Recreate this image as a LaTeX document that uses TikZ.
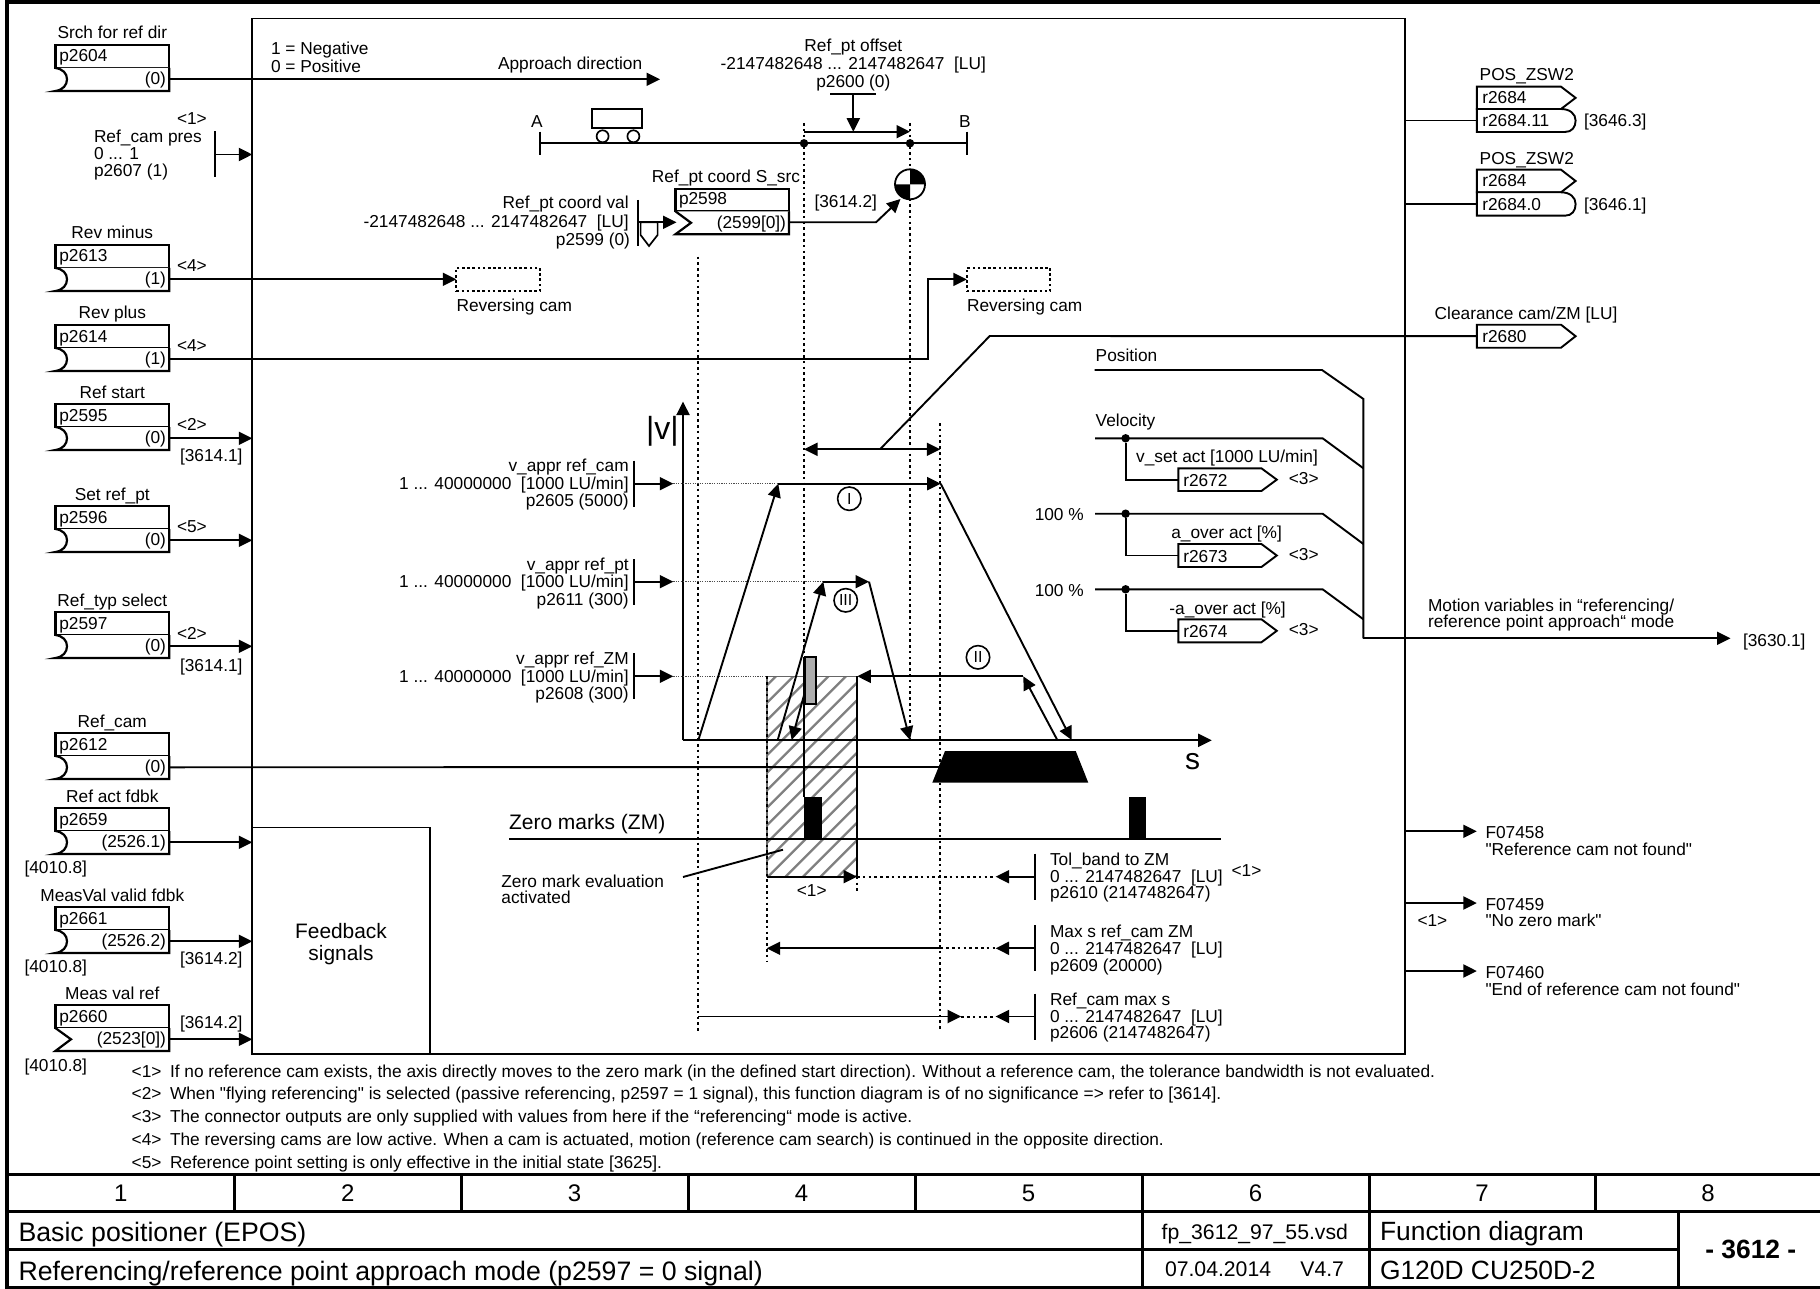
\documentclass[tikz,border=0pt]{standalone}
\usepackage{fontspec}
\setmainfont{Liberation Sans}[Ligatures=TeXOff]
\usetikzlibrary{arrows.meta}
\newcounter{tn}
\newcommand\fs[1]{\fontsize{#1}{#1}\selectfont}
\newcommand\TL[3]{\stepcounter{tn}\node[txt,anchor=base west] (t\arabic{tn}) at (#1,{#2+1}) {#3};}
\newcommand\TC[3]{\stepcounter{tn}\node[txt,anchor=base] (t\arabic{tn}) at (#1,{#2+1}) {#3};}
\newcommand\TR[3]{\stepcounter{tn}\node[txt,anchor=base east] (t\arabic{tn}) at (#1,{#2+1}) {#3};}
% input block: name, top, title, param, value, kind (0 curve, 1 chevron)
\newcommand\inblock[6]{%
  \draw[blk] (55.4,#2) rectangle (169.2,{#2+23});
  \ifnum#6=0
  \draw[blk] (55.4,{#2+23}) .. controls (63,{#2+24}) and (67,{#2+28.5}) .. (67,{#2+34.3}) .. controls (67,{#2+40}) and (63,{#2+45}) .. (55.4,{#2+46}) -- (169.2,{#2+46}) -- (169.2,{#2+23});
  \else
  \draw[blk] (55.4,{#2+23}) -- (71,{#2+34.3}) -- (55.4,{#2+46}) -- (169.2,{#2+46}) -- (169.2,{#2+23});
  \fi
  \TC{112.3}{#2-7}{#3}
  \TL{59.3}{#2+16}{#4}
  \TR{166}{#2+38.5}{#5}
  \coordinate (#1) at (169.2,{#2+34.3});
}
% output pentagon: name, top, bottom, text
\newcommand\outblock[4]{%
  \draw[blkthin] (1476.8,#2) -- (1561,#2) -- (1575.6,{(#2+#3)/2}) -- (1561,#3) -- (1476.8,#3) -- cycle;
  \TL{1482.3}{#3-6.5}{#4}
  \coordinate (#1) at (1476.8,{(#2+#3)/2});
}
% bit output: name, top, bottom, text
\newcommand\bitblock[4]{%
  \draw[blkthin] (1476.8,#2) -- (1561,#2) .. controls (1570,#2) and (1575.6,{#2+5}) .. (1575.6,{(#2+#3)/2}) .. controls (1575.6,{#3-5}) and (1572,#3) .. (1565,#3) -- (1476.8,#3) -- cycle;
  \TL{1482.3}{#3-6.5}{#4}
  \coordinate (#1) at (1476.8,{(#2+#3)/2});
}
% small output pentagon: name, top, bottom, text
\newcommand\smallout[4]{%
  \draw[blkthin] (1178.3,#2) -- (1261.4,#2) -- (1276.8,{(#2+#3)/2}) -- (1261.4,#3) -- (1178.3,#3) -- cycle;
  \TL{1183.3}{#3-5.5}{#4}
  \TL{1288.8}{#3-8}{<3>}
  \coordinate (#1) at (1178.3,{(#2+#3)/2});
}
\newcommand\pbar[3]{%
  \coordinate (#1) at (#2,#3);
  \draw[ln] (#2,{#3-23}) -- (#2,{#3+23});
}
\newcommand\circnum[4]{%
  \node[circle,draw,line width=1.6pt,fill=white,minimum size=23.4pt,inner sep=0pt,font=\fs{16}] (#1) at (#2,#3) {#4};
}
\tikzset{
  txt/.style={inner sep=0pt,outer sep=0pt,font=\fs{17.3}},
  ln/.style={line width=1.9pt,line join=miter},
  blk/.style={line width=2.2pt,fill=white},
  blkthin/.style={line width=1.9pt,fill=white,line join=miter},
  arr/.style={-{Triangle[length=13.5pt,width=13pt]}},
  dots/.style={line width=2pt,dash pattern=on 2.6pt off 3.2pt},
  fine/.style={line width=1.1pt,dash pattern=on 1.2pt off 1.2pt,black!70},
  dot/.style={circle,fill=black,inner sep=0pt,minimum size=8.5pt},
  mainbox/.style={draw,line width=1.9pt,inner sep=0pt,outer sep=0pt,anchor=north west},
  dashbox/.style={draw,line width=1.9pt,dash pattern=on 2.6pt off 2.6pt,inner sep=0pt,outer sep=0pt,minimum width=83.5pt,minimum height=23.3pt},
}
\begin{document}
\begin{tikzpicture}[x=1pt,y=-1pt]
\useasboundingbox (0,0) rectangle (1820,1289);
\fill[white] (0,0) rectangle (1820,1289);

%% frame and main boxes
\draw[line width=3.4pt] (1820,2) -- (7,2) -- (7,1287.5) -- (1820,1287.5);
\node[mainbox,minimum width=1153pt,minimum height=1035.5pt] (main) at (252.3,18.5) {};
\node[mainbox,minimum width=177.7pt,minimum height=226.5pt] (fb) at (252.3,827.5) {};
\TC{341}{937.5}{\fs{20.9}Feedback}
\TC{341}{959}{\fs{20.9}signals}

%% hatching
\coordinate (hnw) at (766.7,676.3);
\coordinate (hse) at (857,876.7);
\begin{scope}
\clip (hnw) rectangle (hse);
\foreach \i in {-13,...,6} {
  \draw[black!50,line width=2.2pt] ({768+17.5*\i-10},886.7) -- ({768+17.5*\i+210},666.7);
}
\end{scope}
\draw[black!60,line width=1.6pt] (hnw) -- (hnw -| hse);
\draw[black!60,line width=1.6pt] (hnw) -- (hnw |- hse);
\draw[line width=1.9pt] (hnw -| hse) -- (hse);

%% dotted verticals
\coordinate (d1t) at (698.3,256.7); \coordinate (d1b) at (698.3,1031.7);
\coordinate (d2t) at (804,123);     \coordinate (d2b) at (804,657);
\coordinate (d3t) at (910,123);     \coordinate (d3b) at (910,740);
\coordinate (d4t) at (940.3,423);   \coordinate (d4b) at (940.3,1031.7);
\coordinate (d5t) at (766.7,676.3); \coordinate (d5b) at (766.7,961.7);
\coordinate (d6t) at (857,876.7);   \coordinate (d6b) at (857,892.7);
\foreach \k in {1,...,6} \draw[dots] (d\k t) -- (d\k b);
\draw[line width=1.2pt] (804,657) -- (804,797);

%% input blocks
\inblock{p2604}{45}{Srch for ref dir}{p2604}{(0)}{0}
\inblock{p2613}{245}{Rev minus}{p2613}{(1)}{0}
\inblock{p2614}{325}{Rev plus}{p2614}{(1)}{0}
\inblock{p2595}{404}{Ref start}{p2595}{(0)}{0}
\inblock{p2596}{506}{Set ref\_pt}{p2596}{(0)}{0}
\inblock{p2597}{612}{Ref\_typ select}{p2597}{(0)}{0}
\inblock{p2612}{733}{Ref\_cam}{p2612}{(0)}{0}
\inblock{p2659}{808}{Ref act fdbk}{p2659}{(2526.1)}{0}
\inblock{p2661}{907}{MeasVal valid fdbk}{p2661}{(2526.2)}{0}
\inblock{p2660}{1005}{Meas val ref}{p2660}{(2523[0])}{1}

\coordinate (appr) at (660,79.3);
\draw[ln,arr] (p2604) -- (appr);
\node[dashbox,anchor=north west] (cam1) at (456.3,267.8) {};
\node[dashbox,anchor=north west] (cam2) at (966.8,267.8) {};
\draw[ln,arr] (p2613) -- (p2613 -| cam1.west);
\coordinate (rp) at (928.4,359.3);
\draw[ln,arr] (p2614) -- (rp) -- (rp |- cam2.west) -- (cam2.west);
\draw[ln,arr] (p2595) -- (p2595 -| main.west);
\draw[ln,arr] (p2596) -- (p2596 -| main.west);
\draw[ln,arr] (p2597) -- (p2597 -| main.west);
\draw[ln,arr] (p2659) -- (p2659 -| main.west);
\draw[ln,arr] (p2661) -- (p2661 -| main.west);
\draw[ln,arr] (p2660) -- (p2660 -| main.west);

\TL{177}{270.3}{<4>} \TL{177}{350.7}{<4>} \TL{177}{429.3}{<2>} \TL{177}{531.7}{<5>} \TL{177}{638}{<2>}
\TL{180}{460.7}{[3614.1]} \TL{180}{670.7}{[3614.1]} \TL{180}{963.3}{[3614.2]} \TL{180}{1027.7}{[3614.2]}
\TL{24.5}{872.7}{[4010.8]} \TL{24.5}{971.3}{[4010.8]} \TL{24.5}{1070}{[4010.8]}
\TL{456.6}{310.7}{Reversing cam} \TL{967}{310.7}{Reversing cam}

%% Ref cam pres
\TL{177}{123.7}{<1>}
\TL{94}{141.6}{Ref\_cam pres} \TL{94}{158.7}{0 ... 1} \TL{94}{176}{p2607 (1)}
\pbar{b2607}{214.7}{154.5}
\draw[ln,arr] (b2607) -- (b2607 -| main.west);

\TL{271}{54}{1 = Negative} \TL{271}{72}{0 = Positive}
\TL{498}{69}{Approach direction}

%% axis with cart
\TC{537}{127}{A} \TC{965}{127}{B}
\coordinate (axA) at (539.7,143.3); \coordinate (axB) at (966.8,143.3);
\draw[ln] (axA) -- (axB);
\draw[ln] (539.7,131.7) -- (539.7,155);
\draw[ln] (966.8,131.7) -- (966.8,155);
\draw[ln,fill=white] (592,109) rectangle (641.7,128.3);
\draw[line width=1.7pt,fill=white] (602.6,136.3) circle[radius=6pt];
\draw[line width=1.7pt,fill=white] (633.4,136.3) circle[radius=6pt];
\node[dot] (dA) at (804,143.3) {};
\node[dot] (dB) at (910,143.3) {};

%% offset
\TC{853.3}{50.7}{Ref\_pt offset}
\TC{853.3}{68.3}{-2147482648 ... 2147482647\ \ [LU]}
\TC{853.3}{86.7}{p2600 (0)}
\coordinate (offbar) at (853.3,94.3);
\draw[ln] (830,94.3) -- (876,94.3);
\coordinate (offa) at (804,131.7); \coordinate (offb) at (910,131.7);
\draw[ln,arr] (offa) -- (offb);
\draw[ln,arr] (offbar) -- (offbar |- offb);

%% Ref_pt coord
\TR{628.7}{208}{Ref\_pt coord val}
\TR{628.7}{226.3}{-2147482648 ... 2147482647\ \ [LU]}
\TR{630}{245}{p2599 (0)}
\pbar{b2599}{637.8}{223}
\draw[line width=1.7pt] (640.6,222.3) -- (657.6,222.3) -- (657.6,235) -- (649,246) -- (640.6,235) -- cycle;
\TC{726}{182}{Ref\_pt coord S\_src}
\draw[blk] (675.4,188.7) rectangle (789,211.3);
\draw[blk] (675.4,211.3) -- (691,222.8) -- (675.4,234.3) -- (789,234.3) -- (789,211.3);
\TL{679}{203.7}{p2598} \TR{786}{227.7}{(2599[0])}
\coordinate (b2598in) at (676.5,222.3); \coordinate (b2598out) at (789,222.3);
\draw[ln,arr] (b2599 |- b2598in) -- (b2598in);
\coordinate (kn) at (876,222.3); \coordinate (sym) at (900.5,199);
\draw[ln,arr] (b2598out) -- (kn) -- (sym);
\TL{814.5}{207}{[3614.2]}
\coordinate (refpt) at (910,184.3);
\fill[white] (refpt) circle[radius=15pt];
\fill (refpt) -- ++(15pt,0pt) arc[start angle=0,end angle=90,radius=15pt] -- cycle;
\fill (refpt) -- ++(-15pt,0pt) arc[start angle=180,end angle=270,radius=15pt] -- cycle;
\draw[line width=1.8pt] (refpt) circle[radius=15pt];

%% velocity diagram
\coordinate (orig) at (683,740.3);
\coordinate (vtip) at (683,401.5);
\coordinate (stip) at (1211.7,740.3);
\draw[ln,arr] (orig) -- (vtip);
\draw[ln,arr] (orig) -- (stip);
\TL{646}{438.5}{\fs{32}|v|}
\TC{1192.7}{768.3}{\fs{30}s}

\TR{628.7}{470.7}{v\_appr ref\_cam}
\TR{628.7}{488.3}{1 ... 40000000\ \ [1000 LU/min]}
\TR{628.7}{505}{p2605 (5000)}
\TR{628.7}{569.3}{v\_appr ref\_pt}
\TR{628.7}{586.7}{1 ... 40000000\ \ [1000 LU/min]}
\TR{628.7}{604}{p2611 (300)}
\TR{628.7}{663.3}{v\_appr ref\_ZM}
\TR{628.7}{681.7}{1 ... 40000000\ \ [1000 LU/min]}
\TR{628.7}{698.3}{p2608 (300)}
\pbar{bv1}{634}{483.7}
\pbar{bv2}{634}{582}
\pbar{bv3}{634}{676.3}
\coordinate (vi1) at (673.3,483.7);
\coordinate (vi2) at (673.3,581.7);
\coordinate (vi3) at (673.3,676.3);
\draw[ln,arr] (bv1) -- (vi1);
\draw[ln,arr] (bv2 |- vi2) -- (vi2);
\draw[ln,arr] (bv3) -- (vi3);
\coordinate (p1a) at (698.3,740.3); \coordinate (p1b) at (778.3,483.7);
\coordinate (p1c) at (940.7,483.7); \coordinate (p1d) at (1071.7,740);
\coordinate (p3a) at (777.7,740); \coordinate (p3b) at (823.3,581.7);
\coordinate (p3c) at (869,581.7); \coordinate (p3d) at (910,740);
\coordinate (p3e) at (806,688); \coordinate (p3f) at (791.7,740);
\coordinate (p2a) at (1057.3,740); \coordinate (p2b) at (1023.3,676.3);
\coordinate (p2c) at (857.3,676.3);
\draw[fine] (vi1) -- (p1b);
\draw[fine] (vi2) -- (p3b);
\draw[fine] (vi3) -- (hnw);
\draw[ln,arr] (p1a) -- (p1b);
\draw[ln,arr] (p1b) -- (p1c);
\draw[ln,arr] (p1c) -- (p1d);
\draw[ln,arr] (p3a) -- (p3b);
\draw[ln,arr] (p3b) -- (p3c);
\draw[ln,arr] (p3c) -- (p3d);
\draw[ln,arr] (p3e) -- (p3f);
\draw[ln,arr] (p2a) -- (p2b);
\draw[ln,arr] (p2b) -- (p2c);
\draw[line width=2pt,fill=black!32] (804.7,657) rectangle (815.7,704);
\circnum{cI}{849.3}{498.7}{I}
\circnum{cIII}{845.7}{600.3}{III}
\circnum{cII}{978}{657.3}{II}

%% clearance
\coordinate (cl1) at (804,449.3); \coordinate (cl2) at (940.3,449.3);
\coordinate (clm) at (880,449.3); \coordinate (clk) at (989.7,336);
\draw[ln,{Triangle[length=13.5pt,width=13pt]}-{Triangle[length=13.5pt,width=13pt]}] (cl1) -- (cl2);
\TC{1526}{318.7}{Clearance cam/ZM [LU]}
\outblock{r2680}{324.7}{347.7}{r2680}
\draw[ln] (clm) -- (clk) -- (r2680);

%% ref cam line and trapezoid
\coordinate (tr) at (945,767);
\draw[ln] (p2612) -- (tr);
\fill (945,751) -- (1075.7,751) -- (1088.3,782.7) -- (932.3,782.7) -- cycle;

%% zero marks
\TL{509}{828.3}{\fs{21}Zero marks (ZM)}
\coordinate (zl) at (509,839.3); \coordinate (zr) at (1221,839.3);
\draw[ln] (zl) -- (zr);
\fill (804,796.7) rectangle (821.7,839.3);
\fill (1129,796.7) rectangle (1145.5,839.3);
\TL{501.4}{886}{Zero mark evaluation}
\TL{501.4}{902.7}{activated}
\coordinate (zlead) at (683,877); \coordinate (zleadb) at (783,849.7);
\draw[ln] (zlead) -- (zleadb);
\TC{811.8}{895}{<1>}

%% bottom params
\pbar{b2610}{1035}{876.7}
\pbar{b2609}{1035}{948.3}
\pbar{b2606}{1035}{1016.5}
\coordinate (a10) at (995.6,876.7); \coordinate (a09) at (995.6,948.3); \coordinate (a06) at (995.6,1016.5);
\draw[ln,arr] (b2610) -- (a10);
\draw[ln,arr] (b2609) -- (a09);
\draw[ln,arr] (b2606) -- (a06);
\coordinate (h10a) at (766.7,876.7); \coordinate (h10b) at (857,876.7);
\draw[ln,arr] (h10a) -- (h10b);
\draw[dots] (h10b) -- (a10);
\coordinate (h09a) at (940.3,948.3); \coordinate (h09b) at (766.7,948.3);
\draw[ln,arr] (h09a) -- (h09b);
\draw[dots] (h09a) -- (a09);
\coordinate (h06a) at (698.3,1016.5); \coordinate (h06b) at (961.2,1016.5);
\draw[ln,arr] (h06a) -- (h06b);
\draw[dots] (h06b) -- (a06);
\TL{1050}{864}{Tol\_band to ZM} \TL{1050}{881}{0 ... 2147482647\ \ [LU]} \TL{1050}{897.7}{p2610 (2147482647)}
\TL{1231.6}{875.7}{<1>}
\TL{1050}{936}{Max s ref\_cam ZM} \TL{1050}{953.3}{0 ... 2147482647\ \ [LU]} \TL{1050}{970}{p2609 (20000)}
\TL{1050}{1004}{Ref\_cam max s} \TL{1050}{1021}{0 ... 2147482647\ \ [LU]} \TL{1050}{1037.7}{p2606 (2147482647)}

%% right: status words
\TL{1479.7}{80}{POS\_ZSW2}
\outblock{r2684a}{86.7}{109}{r2684}
\bitblock{r268411}{109}{132}{r2684.11}
\TL{1584}{126}{[3646.3]}
\TL{1479.7}{163.3}{POS\_ZSW2}
\outblock{r2684b}{169.7}{192.3}{r2684}
\bitblock{r26840}{192.3}{215.7}{r2684.0}
\TL{1584}{209.3}{[3646.1]}
\draw[ln] (r268411 -| main.east) -- (r268411);
\draw[ln] (r26840 -| main.east) -- (r26840);

%% motion variables
\TL{1095.7}{360}{Position}
\TL{1095.7}{425}{Velocity}
\TR{1083.8}{519.3}{100 \%}
\TR{1083.8}{595}{100 \%}
\coordinate (bus) at (1363.4,399);
\coordinate (bust) at (1363.4,638.3);
\coordinate (posa) at (1094.5,370); \coordinate (posb) at (1322,370);
\draw[ln] (posa) -- (posb) -- (bus) -- (bust);
\coordinate (v0) at (1095,438.3); \coordinate (v1) at (1322.6,438.3); \coordinate (v2) at (1363.4,468.3);
\draw[ln] (v0) -- (v1) -- (v2);
\coordinate (a0) at (1095,513.7); \coordinate (a1) at (1322.6,513.7); \coordinate (a2) at (1363.4,544);
\draw[ln] (a0) -- (a1) -- (a2);
\coordinate (m0) at (1095,589.3); \coordinate (m1) at (1322.6,589.3); \coordinate (m2) at (1363.4,619.3);
\draw[ln] (m0) -- (m1) -- (m2);
\node[dot] (jv) at (1125.6,438.3) {};
\node[dot] (ja) at (1125.6,513.7) {};
\node[dot] (jm) at (1125.6,589.3) {};
\TC{1227}{461.7}{v\_set act [1000 LU/min]}
\TC{1226.6}{537.3}{a\_over act [\%]}
\TC{1227.6}{613.3}{-a\_over act [\%]}
\smallout{r2672}{468.3}{491}{r2672}
\smallout{r2673}{544}{567}{r2673}
\smallout{r2674}{619.3}{642.3}{r2674}
\draw[ln] (jv) -- (jv |- r2672) -- (r2672);
\draw[ln] (ja) -- (ja |- r2673) -- (r2673);
\draw[ln] (jm) -- (jm |- r2674) -- (r2674);
\coordinate (out) at (1730.5,638.3);
\draw[ln,arr] (bust) -- (out);
\TL{1743}{645}{[3630.1]}
\TL{1428}{610}{Motion variables in “referencing/}
\TL{1428}{626.7}{reference point approach“ mode}

%% faults
\coordinate (f58) at (1476.8,831.3); \coordinate (f59) at (1476.8,903); \coordinate (f60) at (1476.8,971);
\draw[ln,arr] (f58 -| main.east) -- (f58);
\draw[ln,arr] (f59 -| main.east) -- (f59);
\draw[ln,arr] (f60 -| main.east) -- (f60);
\TL{1485.5}{837.3}{F07458} \TL{1485.5}{854}{"Reference cam not found"}
\TL{1485.5}{909}{F07459} \TL{1485.5}{925.7}{"No zero mark"}
\TL{1417.5}{925}{<1>}
\TL{1485.5}{977}{F07460} \TL{1485.5}{994}{"End of reference cam not found"}

%% notes
\TL{131.7}{1076}{<1>} \TL{170}{1076}{If no reference cam exists, the axis directly moves to the zero mark (in the defined start direction). Without a reference cam, the tolerance bandwidth is not evaluated.}
\TL{131.7}{1098.3}{<2>} \TL{170}{1098.3}{When "flying referencing" is selected (passive referencing, p2597 = 1 signal), this function diagram is of no significance => refer to [3614].}
\TL{131.7}{1121}{<3>} \TL{170}{1121}{The connector outputs are only supplied with values from here if the “referencing“ mode is active.}
\TL{131.7}{1144}{<4>} \TL{170}{1144}{The reversing cams are low active. When a cam is actuated, motion (reference cam search) is continued in the opposite direction.}
\TL{131.7}{1167.5}{<5>} \TL{170}{1167.5}{Reference point setting is only effective in the initial state [3625].}

%% title table
\draw[line width=3pt] (7,1174) -- (1820,1174);
\draw[line width=3pt] (7,1211.7) -- (1820,1211.7);
\draw[line width=3pt] (7,1249.3) -- (1678.5,1249.3);
\foreach \x in {234.5,461,688,915,1369,1595.5} \draw[line width=3pt] (\x,1174) -- (\x,1211.7);
\draw[line width=3pt] (1142,1174) -- (1142,1287.5);
\draw[line width=3pt] (1369,1211.7) -- (1369,1287.5);
\draw[line width=3pt] (1678.5,1211.7) -- (1678.5,1287.5);
\TC{120.7}{1200.7}{\fs{24}1}
\TC{347.7}{1200.7}{\fs{24}2}
\TC{574.5}{1200.7}{\fs{24}3}
\TC{801.5}{1200.7}{\fs{24}4}
\TC{1028.5}{1200.7}{\fs{24}5}
\TC{1255.5}{1200.7}{\fs{24}6}
\TC{1482}{1200.7}{\fs{24}7}
\TC{1708}{1200.7}{\fs{24}8}
\TL{18.5}{1240}{\fs{26.7}Basic positioner (EPOS)}
\TL{18.5}{1279}{\fs{26.7}Referencing/reference point approach mode (p2597 = 0 signal)}
\TL{1161.7}{1238}{\fs{21.2}fp\_3612\_97\_55.vsd}
\TL{1165}{1275}{\fs{21.2}07.04.2014}
\TR{1344}{1275}{\fs{21.2}V4.7}
\TL{1380}{1239}{\fs{26.4}Function diagram}
\TL{1380}{1278}{\fs{26.4}G120D CU250D-2}
\TC{1750.8}{1257}{\fs{26.4}\bfseries - 3612 -}
\end{tikzpicture}
\end{document}
